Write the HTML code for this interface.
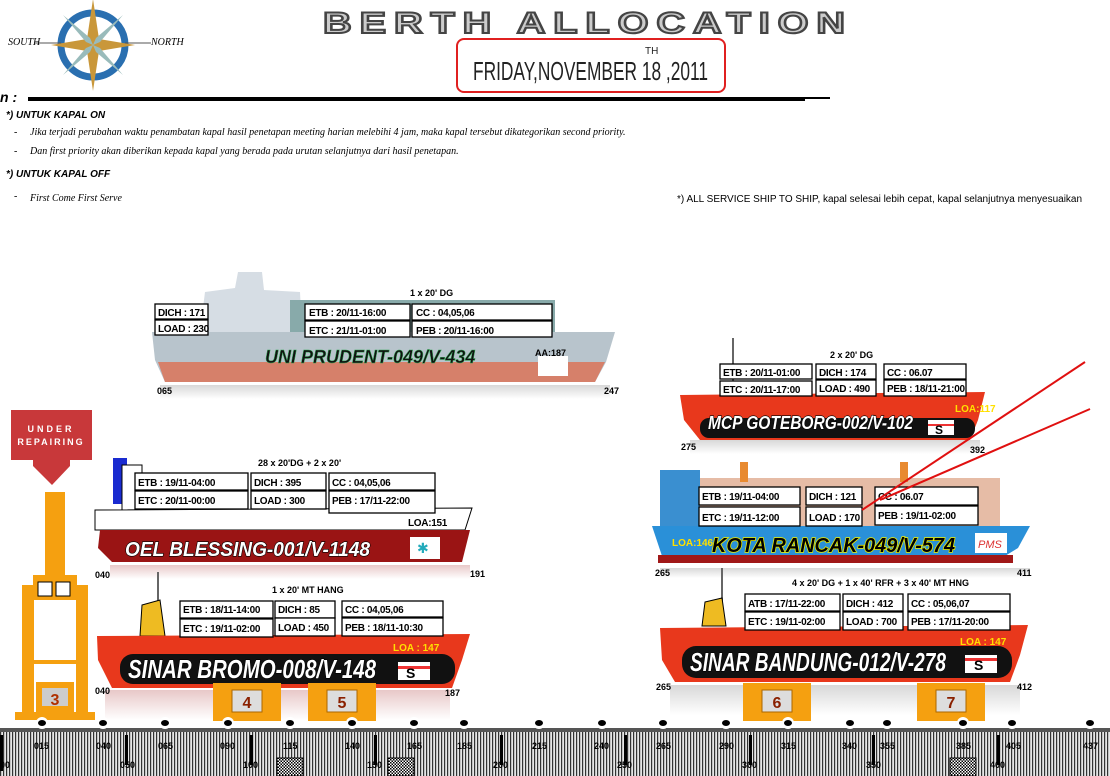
<!DOCTYPE html>
<html><head><meta charset="utf-8"><style>
html,body{margin:0;padding:0;background:#fff;width:1110px;height:776px;overflow:hidden}
svg text{font-family:"Liberation Sans",sans-serif}
.bx{fill:#fff;stroke:#000;stroke-width:1.3}
.bt{font-size:10px;font-weight:bold;fill:#000;letter-spacing:-0.3px}
.sm{font-size:9px;font-weight:bold;fill:#000}
.nm{font-size:22px;font-weight:bold;font-style:italic;fill:#fff;stroke:#000;stroke-width:1.2;paint-order:stroke}
.loa{font-size:10px;font-weight:bold;fill:#ffe000}
.it{font-family:"Liberation Serif",serif;font-style:italic;font-size:10px;fill:#000}
.h{font-size:10px;font-weight:bold;font-style:italic;fill:#000}
</style></head><body>
<svg width="1110" height="776" viewBox="0 0 1110 776" xmlns="http://www.w3.org/2000/svg">
<defs>
<pattern id="rul" width="3" height="4" patternUnits="userSpaceOnUse"><rect width="3" height="4" fill="#e6e6e6"/><rect width="1.2" height="4" fill="#333"/></pattern>
<pattern id="hat" width="3" height="3" patternUnits="userSpaceOnUse"><rect width="3" height="3" fill="#fff"/><rect width="1.5" height="1.5" fill="#000"/><rect x="1.5" y="1.5" width="1.5" height="1.5" fill="#000"/></pattern>
<linearGradient id="refl" x1="0" y1="0" x2="0" y2="1"><stop offset="0" stop-color="#e8c8c8"/><stop offset="1" stop-color="#fff"/></linearGradient>
<linearGradient id="refg" x1="0" y1="0" x2="0" y2="1"><stop offset="0" stop-color="#d8d8d8"/><stop offset="1" stop-color="#fff"/></linearGradient>
</defs>

<!-- compass -->
<g transform="translate(93,45)">
<circle r="32" fill="none" stroke="#2a6fb0" stroke-width="7"/>
<polygon points="0,-46 6,-6 0,0 -6,-6" fill="#c9973a"/><polygon points="0,46 6,6 0,0 -6,6" fill="#c9973a"/>
<polygon points="-42,0 -6,-6 0,0 -6,6" fill="#c9973a"/><polygon points="42,0 6,-6 0,0 6,6" fill="#c9973a"/>
<polygon points="-30,-30 -3,-7 0,0 -7,-3" fill="#9bb"/><polygon points="30,-30 7,-3 0,0 3,-7" fill="#9bb"/>
<polygon points="-30,30 -7,3 0,0 -3,7" fill="#9bb"/><polygon points="30,30 3,7 0,0 7,3" fill="#9bb"/>
<line x1="-58" y1="-2" x2="-32" y2="-2" stroke="#555"/><line x1="32" y1="-2" x2="58" y2="-2" stroke="#555"/>
</g>
<text x="8" y="45" class="it" style="font-size:10px">SOUTH</text>
<text x="151" y="45" class="it" style="font-size:10px">NORTH</text>

<!-- title -->
<text x="588" y="33" text-anchor="middle" style="font-size:30px;font-weight:bold;fill:#ccc;stroke:#444;stroke-width:2;letter-spacing:6px" textLength="530" lengthAdjust="spacingAndGlyphs">BERTH ALLOCATION</text>
<rect x="457" y="39" width="268" height="53" rx="7" fill="#fff" stroke="#e02020" stroke-width="2"/>
<text x="473" y="80" style="font-size:26px;fill:#222;font-weight:normal" textLength="235" lengthAdjust="spacingAndGlyphs">FRIDAY,NOVEMBER 18  ,2011</text>
<text x="645" y="54" style="font-size:10px;fill:#222">TH</text>

<!-- line -->
<text x="0" y="102" style="font-size:14px;font-weight:bold;font-style:italic">n :</text>
<rect x="28" y="97" width="777" height="4" fill="#000"/><rect x="805" y="97" width="25" height="2" fill="#000"/>
<text x="6" y="118" class="h">*) UNTUK KAPAL ON</text>
<text x="14" y="135" class="it">-</text><text x="30" y="135" class="it">Jika terjadi perubahan waktu penambatan kapal hasil penetapan meeting harian melebihi 4 jam, maka kapal tersebut dikategorikan second priority.</text>
<text x="14" y="154" class="it">-</text><text x="30" y="154" class="it">Dan first priority akan diberikan kepada kapal yang berada pada urutan selanjutnya dari hasil penetapan.</text>
<text x="6" y="177" class="h">*) UNTUK KAPAL OFF</text>
<text x="14" y="199" class="it">-</text><text x="30" y="201" class="it">First Come First Serve</text>
<text x="677" y="202" style="font-size:10px;fill:#000">*) ALL SERVICE SHIP TO SHIP, kapal selesai lebih cepat, kapal selanjutnya menyesuaikan</text>

<!-- UNI PRUDENT -->
<rect x="160" y="385" width="450" height="14" fill="url(#refg)"/>
<polygon points="200,332 205,292 235,288 238,272 262,272 264,290 300,292 302,332" fill="#d6dde4"/>
<rect x="290" y="300" width="265" height="34" fill="#8aa"/>
<polygon points="152,332 615,332 606,362 595,382 165,382 155,360" fill="#b8c4cc"/>
<polygon points="158,362 605,362 595,382 165,382" fill="#d6806a"/>
<text x="265" y="363" style="font-size:18px;font-weight:bold;font-style:italic;fill:#111;stroke:#3a5;stroke-width:.5">UNI PRUDENT-049/V-434</text>
<rect x="538" y="356" width="30" height="20" fill="#fff"/>
<text x="535" y="356" class="sm">AA:187</text>
<rect x="155" y="304" width="53" height="15" class="bx"/><text x="158" y="316" class="bt">DICH : 171</text>
<rect x="155" y="320" width="53" height="15" class="bx"/><text x="158" y="332" class="bt">LOAD : 230</text>
<rect x="305" y="304" width="105" height="16" class="bx"/><text x="309" y="316" class="bt">ETB : 20/11-16:00</text>
<rect x="305" y="321" width="105" height="16" class="bx"/><text x="309" y="334" class="bt">ETC : 21/11-01:00</text>
<rect x="412" y="304" width="140" height="16" class="bx"/><text x="416" y="316" class="bt">CC : 04,05,06</text>
<rect x="412" y="321" width="140" height="16" class="bx"/><text x="416" y="334" class="bt">PEB : 20/11-16:00</text>
<text x="410" y="296" class="sm">1 x 20' DG</text>
<text x="157" y="394" class="sm">065</text><text x="604" y="394" class="sm">247</text>

<!-- MCP GOTEBORG -->
<rect x="690" y="440" width="290" height="14" fill="url(#refg)"/>
<line x1="733" y1="338" x2="733" y2="395" stroke="#666" stroke-width="2"/>
<polygon points="680,395 985,392 978,420 970,440 700,440 684,420" fill="#e8381c"/>
<rect x="700" y="418" width="275" height="20" rx="9" fill="#111"/>
<text x="708" y="429" class="nm" style="font-size:18px" textLength="205" lengthAdjust="spacingAndGlyphs">MCP GOTEBORG-002/V-102</text>
<rect x="928" y="420" width="26" height="15" fill="#fff"/><rect x="928" y="424" width="26" height="2" fill="#e33"/><text x="935" y="434" style="font-size:12px;font-weight:bold">S</text>
<text x="955" y="412" class="loa">LOA:117</text>
<rect x="720" y="364" width="92" height="15" class="bx"/><text x="723" y="376" class="bt">ETB : 20/11-01:00</text>
<rect x="720" y="381" width="92" height="15" class="bx"/><text x="723" y="393" class="bt">ETC : 20/11-17:00</text>
<rect x="816" y="364" width="60" height="15" class="bx"/><text x="819" y="376" class="bt">DICH : 174</text>
<rect x="816" y="380" width="60" height="16" class="bx"/><text x="819" y="392" class="bt">LOAD : 490</text>
<rect x="884" y="364" width="82" height="15" class="bx"/><text x="887" y="376" class="bt">CC : 06.07</text>
<rect x="884" y="380" width="82" height="16" class="bx"/><text x="887" y="392" class="bt">PEB : 18/11-21:00</text>
<text x="830" y="358" class="sm">2 x 20' DG</text>
<text x="681" y="450" class="sm">275</text><text x="970" y="453" class="sm">392</text>

<!-- OEL BLESSING -->
<rect x="110" y="565" width="360" height="14" fill="url(#refl)"/>
<rect x="113" y="458" width="14" height="46" fill="#1a2bd0"/>
<rect x="122" y="465" width="20" height="55" fill="#fff" stroke="#000"/>
<rect x="142" y="509" width="290" height="10" fill="#ccc"/>
<rect x="170" y="509" width="10" height="10" fill="#ee3"/><rect x="225" y="509" width="20" height="10" fill="#2c2"/><rect x="245" y="509" width="25" height="10" fill="#3dd"/><rect x="295" y="509" width="20" height="10" fill="#e22"/><rect x="315" y="509" width="15" height="10" fill="#2c2"/><rect x="340" y="509" width="20" height="10" fill="#c22"/><rect x="370" y="509" width="20" height="10" fill="#2c2"/>
<polygon points="95,510 472,508 465,530 95,530" fill="#fff" stroke="#000"/>
<polygon points="100,530 470,530 462,562 112,562 98,548" fill="#9a1414"/>
<text x="125" y="556" class="nm" style="font-size:20px" textLength="245" lengthAdjust="spacingAndGlyphs">OEL BLESSING-001/V-1148</text>
<rect x="410" y="537" width="30" height="22" fill="#fff"/><text x="417" y="553" style="font-size:14px;fill:#2ab">✱</text>
<rect x="135" y="473" width="113" height="17" class="bx"/><text x="138" y="486" class="bt">ETB : 19/11-04:00</text>
<rect x="135" y="491" width="113" height="18" class="bx"/><text x="138" y="504" class="bt">ETC : 20/11-00:00</text>
<rect x="251" y="473" width="75" height="17" class="bx"/><text x="254" y="486" class="bt">DICH : 395</text>
<rect x="251" y="491" width="75" height="18" class="bx"/><text x="254" y="504" class="bt">LOAD : 300</text>
<rect x="329" y="473" width="106" height="17" class="bx"/><text x="332" y="486" class="bt">CC : 04,05,06</text>
<rect x="329" y="491" width="106" height="22" class="bx"/><text x="332" y="504" class="bt">PEB : 17/11-22:00</text>
<text x="258" y="466" class="sm">28 x 20'DG + 2 x 20'</text>
<text x="408" y="526" class="bt">LOA:151</text>
<text x="95" y="578" class="sm">040</text><text x="470" y="577" class="sm">191</text>

<!-- KOTA RANCAK -->
<rect x="660" y="568" width="370" height="10" fill="url(#refg)"/>
<rect x="660" y="470" width="40" height="60" fill="#3a8fd0"/>
<rect x="700" y="478" width="300" height="48" fill="#c86a3a" opacity=".45"/>
<rect x="740" y="462" width="8" height="20" fill="#e88a30"/><rect x="900" y="462" width="8" height="20" fill="#e88a30"/>
<polygon points="652,526 1030,526 1018,548 1005,556 662,556" fill="#2a90d8"/>
<rect x="658" y="555" width="355" height="8" fill="#a01818"/>
<text x="712" y="552" class="nm" style="font-size:20px;fill:#000;stroke:#ee0;stroke-width:1.5" textLength="243" lengthAdjust="spacingAndGlyphs">KOTA RANCAK-049/V-574</text>
<text x="672" y="546" class="loa">LOA:146</text>
<rect x="975" y="533" width="32" height="20" fill="#fff"/><text x="978" y="548" style="font-size:11px;fill:#d33;font-style:italic">PMS</text>
<rect x="699" y="487" width="101" height="18" class="bx"/><text x="702" y="500" class="bt">ETB : 19/11-04:00</text>
<rect x="699" y="507" width="101" height="19" class="bx"/><text x="702" y="521" class="bt">ETC : 19/11-12:00</text>
<rect x="806" y="487" width="56" height="18" class="bx"/><text x="809" y="500" class="bt">DICH : 121</text>
<rect x="806" y="507" width="56" height="19" class="bx"/><text x="809" y="521" class="bt">LOAD : 170</text>
<rect x="875" y="487" width="103" height="18" class="bx"/><text x="878" y="500" class="bt">CC : 06.07</text>
<rect x="875" y="506" width="103" height="19" class="bx"/><text x="878" y="519" class="bt">PEB : 19/11-02:00</text>
<text x="655" y="576" class="sm">265</text><text x="1017" y="576" class="sm">411</text>
<line x1="1085" y1="362" x2="862" y2="510" stroke="#e01010" stroke-width="2"/>
<line x1="1090" y1="409" x2="880" y2="500" stroke="#e01010" stroke-width="2"/>

<!-- SINAR BROMO -->
<rect x="105" y="690" width="345" height="30" fill="url(#refl)"/>
<line x1="158" y1="572" x2="158" y2="636" stroke="#666" stroke-width="2"/>
<polygon points="142,605 160,600 165,636 140,636" fill="#eebb22" stroke="#000"/>
<polygon points="97,636 470,634 462,660 452,688 112,688 98,660" fill="#e8381c"/>
<rect x="120" y="654" width="335" height="30" rx="13" fill="#111"/>
<text x="128" y="678" class="nm" style="font-size:26px" textLength="248" lengthAdjust="spacingAndGlyphs">SINAR BROMO-008/V-148</text>
<rect x="398" y="662" width="32" height="18" fill="#fff"/><rect x="398" y="666" width="32" height="3" fill="#e33"/><text x="406" y="678" style="font-size:14px;font-weight:bold">S</text>
<text x="393" y="651" class="loa">LOA : 147</text>
<rect x="180" y="601" width="93" height="17" class="bx"/><text x="183" y="613" class="bt">ETB : 18/11-14:00</text>
<rect x="180" y="619" width="93" height="18" class="bx"/><text x="183" y="632" class="bt">ETC : 19/11-02:00</text>
<rect x="275" y="601" width="60" height="17" class="bx"/><text x="278" y="613" class="bt">DICH : 85</text>
<rect x="275" y="618" width="60" height="18" class="bx"/><text x="278" y="631" class="bt">LOAD : 450</text>
<rect x="342" y="601" width="101" height="16" class="bx"/><text x="345" y="613" class="bt">CC : 04,05,06</text>
<rect x="342" y="618" width="101" height="18" class="bx"/><text x="345" y="631" class="bt">PEB : 18/11-10:30</text>
<text x="272" y="593" class="sm">1 x 20' MT HANG</text>
<text x="95" y="694" class="sm">040</text><text x="445" y="696" class="sm">187</text>

<!-- SINAR BANDUNG -->
<rect x="670" y="685" width="350" height="30" fill="url(#refg)"/>
<line x1="722" y1="568" x2="722" y2="626" stroke="#666" stroke-width="2"/>
<polygon points="705,602 722,598 726,626 702,626" fill="#eebb22" stroke="#000"/>
<polygon points="660,628 1028,625 1020,655 1010,682 675,682 662,660" fill="#e8381c"/>
<rect x="682" y="646" width="330" height="32" rx="14" fill="#111"/>
<text x="690" y="671" class="nm" style="font-size:26px" textLength="256" lengthAdjust="spacingAndGlyphs">SINAR BANDUNG-012/V-278</text>
<rect x="965" y="655" width="32" height="18" fill="#fff"/><rect x="965" y="658" width="32" height="3" fill="#e33"/><text x="974" y="670" style="font-size:14px;font-weight:bold">S</text>
<text x="960" y="645" class="loa">LOA : 147</text>
<rect x="745" y="594" width="95" height="17" class="bx"/><text x="748" y="607" class="bt">ATB : 17/11-22:00</text>
<rect x="745" y="612" width="95" height="18" class="bx"/><text x="748" y="625" class="bt">ETC : 19/11-02:00</text>
<rect x="843" y="594" width="60" height="17" class="bx"/><text x="846" y="607" class="bt">DICH : 412</text>
<rect x="843" y="612" width="60" height="18" class="bx"/><text x="846" y="625" class="bt">LOAD : 700</text>
<rect x="908" y="594" width="102" height="17" class="bx"/><text x="911" y="607" class="bt">CC : 05,06,07</text>
<rect x="908" y="612" width="102" height="18" class="bx"/><text x="911" y="625" class="bt">PEB : 17/11-20:00</text>
<text x="792" y="586" class="sm">4 x 20' DG + 1 x 40' RFR + 3 x 40' MT HNG</text>
<text x="656" y="690" class="sm">265</text><text x="1017" y="690" class="sm">412</text>

<!-- under repairing crane -->
<rect x="11" y="410" width="81" height="50" fill="#c8383a"/>
<text x="51" y="432" text-anchor="middle" style="font-size:9px;font-weight:bold;fill:#fff;letter-spacing:3px">UNDER</text>
<text x="51" y="445" text-anchor="middle" style="font-size:9px;font-weight:bold;fill:#fff;letter-spacing:2px">REPAIRING</text>
<polygon points="33,460 70,460 70,466 52,485 33,466" fill="#c8383a"/>
<g fill="#f5a010">
<rect x="45" y="492" width="20" height="90"/>
<rect x="33" y="575" width="44" height="25"/>
<rect x="22" y="585" width="12" height="130"/><rect x="76" y="585" width="12" height="130"/>
<rect x="30" y="660" width="52" height="4"/>
<rect x="36" y="682" width="38" height="30"/>
<rect x="15" y="712" width="80" height="8"/>
</g>
<rect x="38" y="582" width="14" height="14" fill="#fff" stroke="#000"/><rect x="56" y="582" width="14" height="14" fill="#fff" stroke="#000"/>
<rect x="42" y="688" width="26" height="18" fill="#ccc"/><text x="55" y="705" text-anchor="middle" style="font-size:16px;font-weight:bold;fill:#b03000">3</text>

<!-- cranes -->
<g fill="#f5a010">
<rect x="213" y="683" width="68" height="38"/><rect x="308" y="683" width="68" height="38"/>
<rect x="743" y="683" width="68" height="38"/><rect x="917" y="683" width="68" height="38"/>
</g>
<g fill="#ddd" stroke="#a60">
<rect x="232" y="690" width="30" height="22"/><rect x="327" y="690" width="30" height="22"/>
<rect x="762" y="690" width="30" height="22"/><rect x="936" y="690" width="30" height="22"/>
</g>
<g style="font-size:16px;font-weight:bold;fill:#8a2000" text-anchor="middle">
<text x="247" y="708">4</text><text x="342" y="708">5</text><text x="777" y="708">6</text><text x="951" y="708">7</text>
</g>

<!-- ruler -->
<rect x="0" y="728" width="1110" height="48" fill="url(#rul)"/>
<rect x="0" y="728" width="1110" height="4" fill="#555"/>
<g fill="#000">
<rect x="0" y="735" width="3" height="36"/><rect x="125" y="735" width="3" height="30"/><rect x="250" y="735" width="3" height="30"/><rect x="374" y="735" width="3" height="30"/><rect x="500" y="735" width="3" height="30"/><rect x="624" y="735" width="3" height="30"/><rect x="749" y="735" width="3" height="30"/><rect x="872" y="735" width="3" height="30"/><rect x="997" y="735" width="3" height="30"/>
</g>
<rect x="277" y="758" width="26" height="18" fill="url(#hat)" stroke="#000"/>
<rect x="388" y="758" width="26" height="18" fill="url(#hat)" stroke="#000"/>
<rect x="950" y="758" width="26" height="18" fill="url(#hat)" stroke="#000"/>
<g class="sm" style="font-size:9px">
<text x="34" y="749">015</text><text x="96" y="749">040</text><text x="158" y="749">065</text><text x="220" y="749">090</text><text x="283" y="749">115</text><text x="345" y="749">140</text><text x="407" y="749">165</text><text x="457" y="749">185</text><text x="532" y="749">215</text><text x="594" y="749">240</text><text x="656" y="749">265</text><text x="719" y="749">290</text><text x="781" y="749">315</text><text x="842" y="749">340</text><text x="880" y="749">355</text><text x="956" y="749">385</text><text x="1006" y="749">405</text><text x="1083" y="749">437</text>
<text x="0" y="768">00</text><text x="120" y="768">050</text><text x="243" y="768">100</text><text x="367" y="768">150</text><text x="493" y="768">200</text><text x="617" y="768">250</text><text x="742" y="768">300</text><text x="866" y="768">350</text><text x="990" y="768">400</text>
</g>
<!-- wheels -->
<g>
<g fill="#fff"><circle cx="42" cy="723" r="6"/><circle cx="103" cy="723" r="6"/><circle cx="165" cy="723" r="6"/><circle cx="228" cy="723" r="6"/><circle cx="290" cy="723" r="6"/><circle cx="352" cy="723" r="6"/><circle cx="414" cy="723" r="6"/><circle cx="464" cy="723" r="6"/><circle cx="539" cy="723" r="6"/><circle cx="602" cy="723" r="6"/><circle cx="663" cy="723" r="6"/><circle cx="726" cy="723" r="6"/><circle cx="788" cy="723" r="6"/><circle cx="850" cy="723" r="6"/><circle cx="887" cy="723" r="6"/><circle cx="963" cy="723" r="6"/><circle cx="1012" cy="723" r="6"/><circle cx="1090" cy="723" r="6"/></g>
<g fill="#000"><ellipse cx="42" cy="723" rx="4" ry="3"/><ellipse cx="103" cy="723" rx="4" ry="3"/><ellipse cx="165" cy="723" rx="4" ry="3"/><ellipse cx="228" cy="723" rx="4" ry="3"/><ellipse cx="290" cy="723" rx="4" ry="3"/><ellipse cx="352" cy="723" rx="4" ry="3"/><ellipse cx="414" cy="723" rx="4" ry="3"/><ellipse cx="464" cy="723" rx="4" ry="3"/><ellipse cx="539" cy="723" rx="4" ry="3"/><ellipse cx="602" cy="723" rx="4" ry="3"/><ellipse cx="663" cy="723" rx="4" ry="3"/><ellipse cx="726" cy="723" rx="4" ry="3"/><ellipse cx="788" cy="723" rx="4" ry="3"/><ellipse cx="850" cy="723" rx="4" ry="3"/><ellipse cx="887" cy="723" rx="4" ry="3"/><ellipse cx="963" cy="723" rx="4" ry="3"/><ellipse cx="1012" cy="723" rx="4" ry="3"/><ellipse cx="1090" cy="723" rx="4" ry="3"/></g>
</g>
</svg>
</body></html>
